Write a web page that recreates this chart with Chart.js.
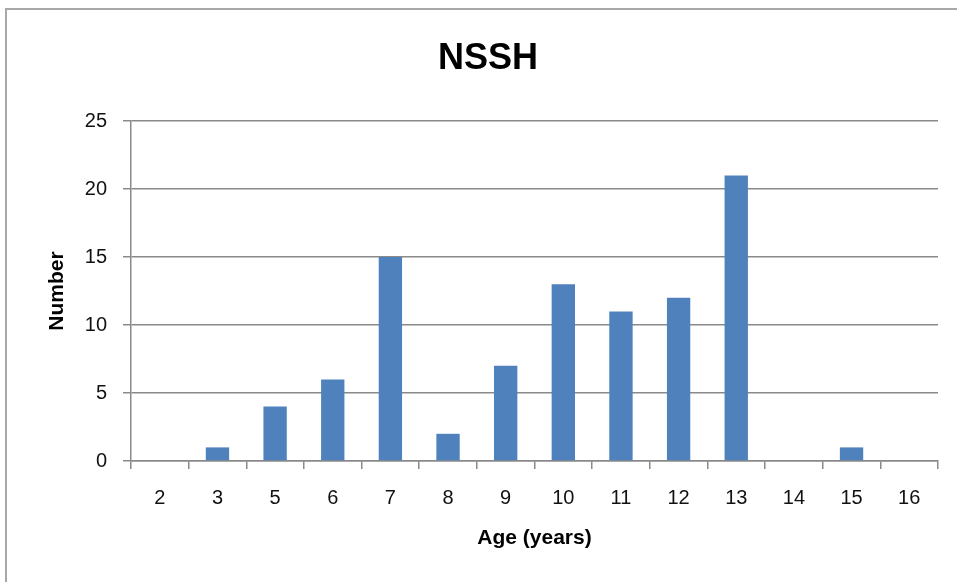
<!DOCTYPE html>
<html>
<head>
<meta charset="utf-8">
<script src="https://cdn.jsdelivr.net/npm/chart.js@4.4.1/dist/chart.umd.min.js"></script>
<style>
  html, body { margin: 0; padding: 0; background: #fff; overflow: hidden; width: 957px; height: 582px; }
  #frame { position: absolute; left: 5px; top: 8px; width: 1000px; height: 1000px; border: 2px solid #a8a8a8; box-sizing: border-box; }
  #c { position: absolute; left: 0; top: 0; }
</style>
</head>
<body>
<div id="frame"></div>
<canvas id="c" width="957" height="582"></canvas>
<script>
const chartTitle = "NSSH";
const xAxisTitle = "Age (years)";
const yAxisTitle = "Number";
const categories = ["2", "3", "5", "6", "7", "8", "9", "10", "11", "12", "13", "14", "15", "16"];
const counts = [0, 1, 4, 6, 15, 2, 7, 13, 11, 12, 21, 0, 1, 0];
const yTicks = [0, 5, 10, 15, 20, 25];

const FONT = "'Liberation Sans', Arial, sans-serif";
const gridColor = "#8a8a8a";
const textColor = "#111";

new Chart(document.getElementById("c"), {
  type: "bar",
  data: {
    labels: categories,
    datasets: [{
      data: counts,
      backgroundColor: "#4f81bd",
      borderWidth: 0,
      categoryPercentage: 1.0,
      barPercentage: 0.405
    }]
  },
  options: {
    responsive: false,
    animation: false,
    devicePixelRatio: 1,
    layout: { padding: { left: 38, right: 19, top: 0, bottom: 0 } },
    plugins: {
      legend: { display: false },
      tooltip: { enabled: false },
      title: {
        display: true,
        text: chartTitle,
        color: "#000",
        font: { family: FONT, size: 36, weight: "bold", lineHeight: 1.2 },
        padding: { top: 37, bottom: 40.8 }
      }
    },
    scales: {
      x: {
        offset: true,
        grid: { display: true, offset: true, drawOnChartArea: false, drawTicks: true, tickLength: 8, color: gridColor, lineWidth: 1.5 },
        border: { display: true, color: gridColor, width: 1.5 },
        ticks: { color: textColor, font: { family: FONT, size: 20 }, padding: 17, maxRotation: 0, autoSkip: false },
        title: { display: true, text: xAxisTitle, color: "#000", font: { family: FONT, size: 21, weight: "bold", lineHeight: 1.2 }, padding: { top: 0, bottom: 31.4 } },
        afterFit: (s) => { s.height = 121; }
      },
      y: {
        min: 0,
        max: 25,
        afterBuildTicks: (s) => { s.ticks = yTicks.map(v => ({ value: v })); },
        grid: { display: true, drawTicks: true, tickLength: 8, color: gridColor, lineWidth: 1.5 },
        border: { display: true, color: gridColor, width: 1.5 },
        ticks: { color: textColor, font: { family: FONT, size: 20 }, padding: 16 },
        title: { display: true, text: yAxisTitle, color: "#000", font: { family: FONT, size: 21, weight: "bold", lineHeight: 1.2 }, padding: { top: 7, bottom: 0 } },
        afterFit: (s) => { s.width = 93; }
      }
    }
  }
});
</script>
</body>
</html>
